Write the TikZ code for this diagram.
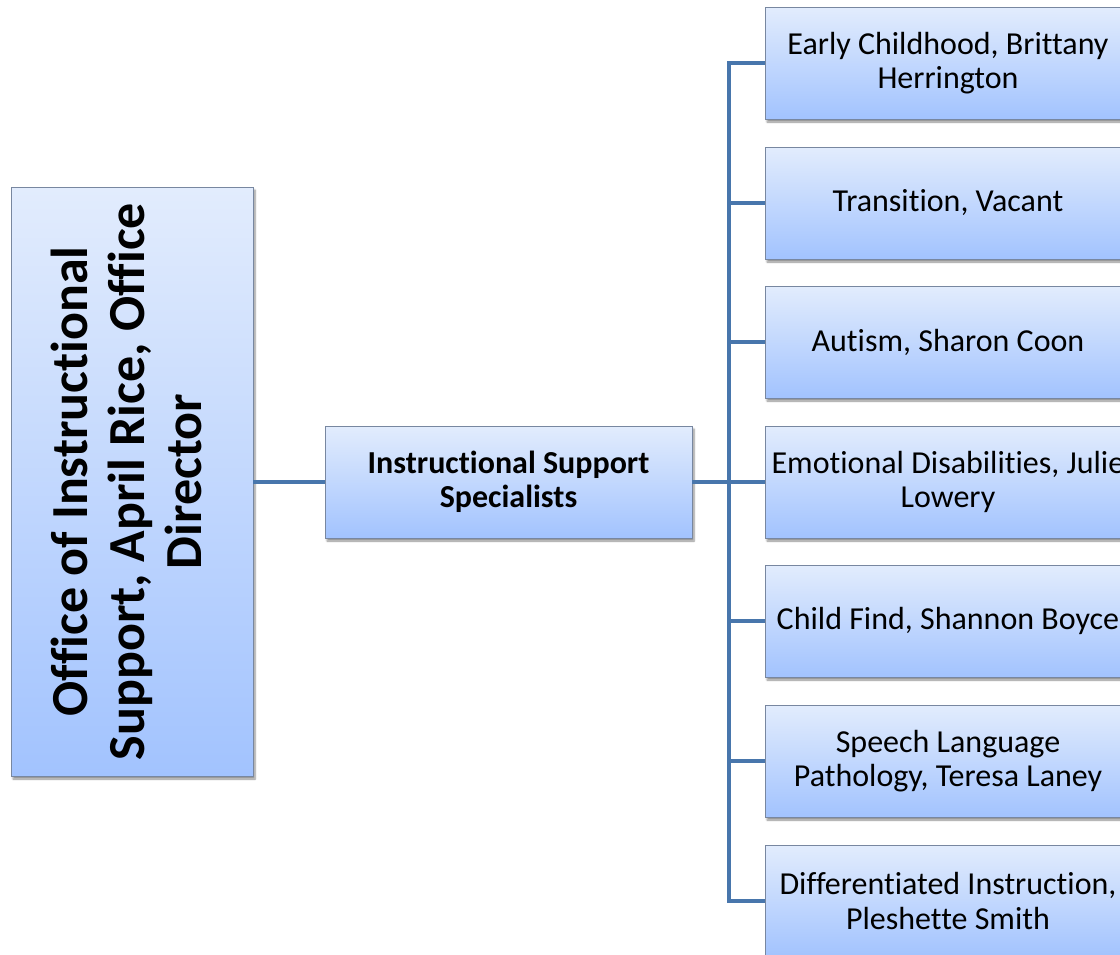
\documentclass[tikz,border=0pt]{standalone}
\usepackage{fontspec}
\setmainfont[Ligatures={NoCommon,NoRare,NoContextual},RawFeature={-liga;-clig;-dlig;-calt;-rlig}]{Carlito}
\usetikzlibrary{shadows.blur}
\definecolor{boxtop}{RGB}{226,236,253}
\definecolor{boxbot}{RGB}{162,195,254}
\definecolor{boxline}{RGB}{120,135,160}
\definecolor{conncol}{RGB}{72,118,172}
\tikzset{
  orgbox/.style={rectangle, draw=boxline, line width=0.8pt, top color=boxtop, bottom color=boxbot,
    inner sep=0pt, align=center, blur shadow={shadow xshift=2pt, shadow yshift=-3pt, shadow blur steps=6, shadow opacity=45}},
  childbox/.style={orgbox, minimum width=366pt, minimum height=112pt, font=\fontsize{32}{34.5}\selectfont},
  conn/.style={draw=conncol, line width=4pt}
}
\begin{document}
\begin{tikzpicture}[x=1pt,y=-1pt]
\useasboundingbox (0,0) rectangle (1120,954);
\clip (0,0) rectangle (1120,954);
\coordinate (bus) at (729,482);
\node[orgbox, minimum width=242pt, minimum height=589pt] (dir) at (132,481.5) {};
\node[rotate=90, align=center, font=\fontsize{52}{57}\bfseries\selectfont] (dirtext) at (126,481.5) {Office of Instructional\\Support, April Rice, Office\\Director};
\node[orgbox, minimum width=367pt, minimum height=112pt, font=\fontsize{32}{34.5}\bfseries\selectfont] (mid) at (508.5,482) {Instructional Support\\Specialists};
\node[childbox] (c1) at (948,63) {Early Childhood, Brittany\\Herrington};
\node[childbox] (c2) at (948,203) {Transition, Vacant};
\node[childbox] (c3) at (948,342) {Autism, Sharon Coon};
\node[childbox] (c4) at (948,482) {Emotional Disabilities, Julie\\Lowery};
\node[childbox] (c5) at (948,621) {Child Find, Shannon Boyce};
\node[childbox] (c6) at (948,761) {Speech Language\\Pathology, Teresa Laney};
\node[childbox] (c7) at (948,901) {Differentiated Instruction,\\Pleshette Smith};
\draw[conn] (dir.east |- mid.west) -- (mid.west);
\draw[conn] (mid.east) -- (bus);
\draw[conn] (c1.west) -- (c1.west -| bus) -- (c7.west -| bus) -- (c7.west);
\foreach \i in {2,3,4,5,6}{\draw[conn] (c\i.west) -- (c\i.west -| bus);}
\end{tikzpicture}
\end{document}
